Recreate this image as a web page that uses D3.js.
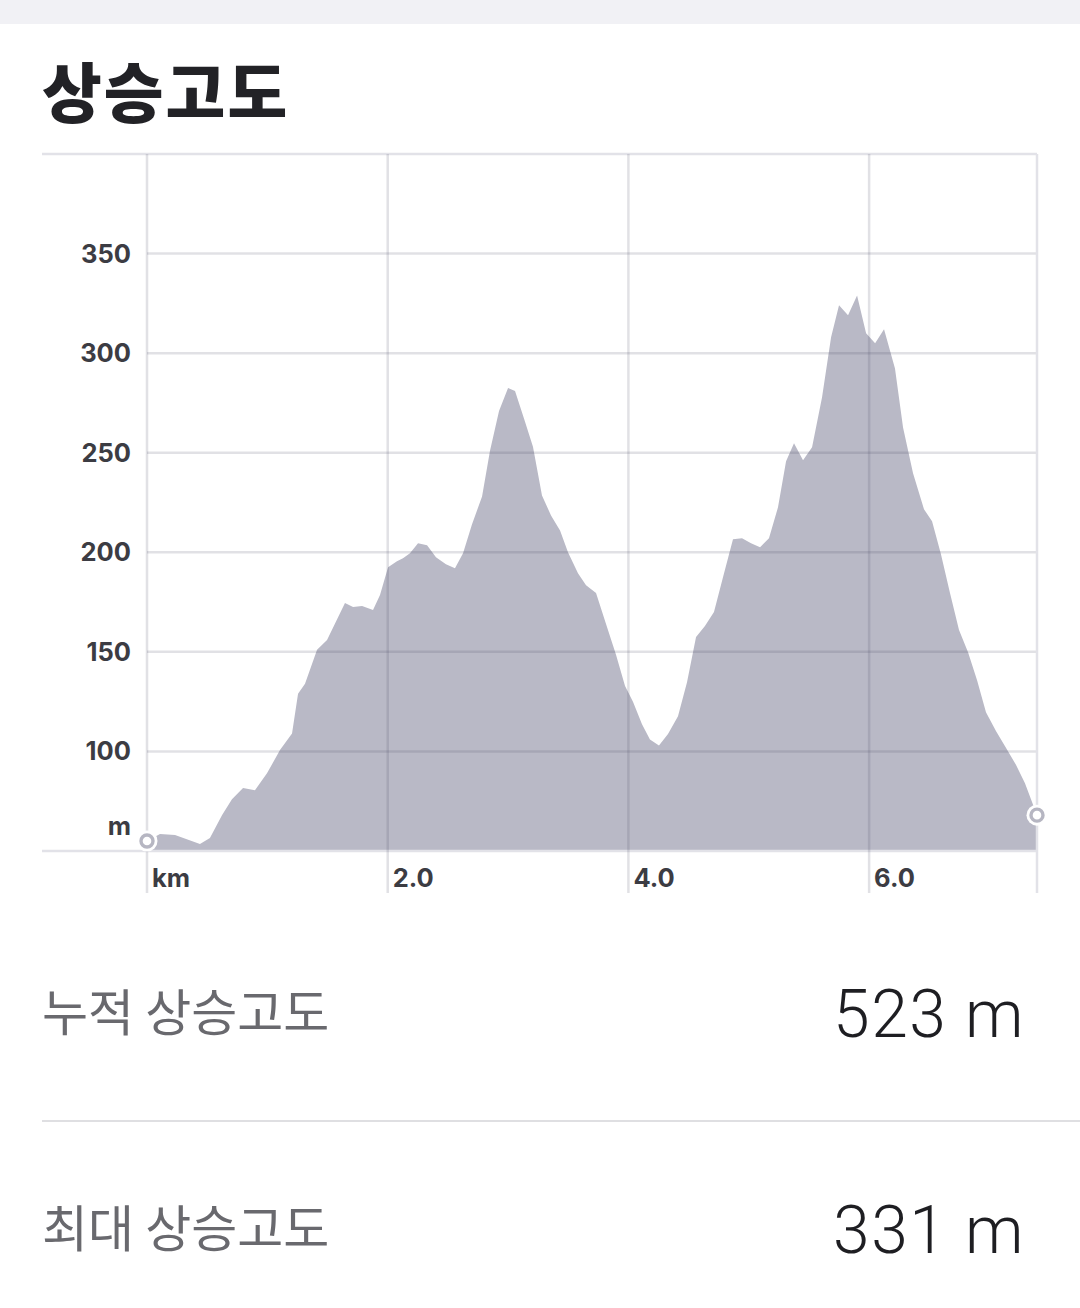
<!DOCTYPE html>
<html><head><meta charset="utf-8">
<script src="https://cdn.jsdelivr.net/npm/d3@7"></script>
<style>
html,body{margin:0;padding:0;background:#fff;}
svg{display:block;}
</style></head>
<body>
<svg id="c" width="1080" height="1308"></svg>
<script>
const distanceKm = [0,0.108,0.233,0.44,0.523,0.623,0.706,0.798,0.897,0.997,1.105,1.205,1.255,1.313,1.413,1.496,1.645,1.712,1.787,1.878,1.936,2.003,2.077,2.127,2.185,2.252,2.327,2.401,2.484,2.559,2.626,2.7,2.784,2.85,2.925,3.0,3.058,3.133,3.207,3.282,3.357,3.432,3.498,3.581,3.648,3.731,3.814,3.897,3.972,4.038,4.113,4.179,4.254,4.329,4.412,4.487,4.562,4.636,4.711,4.786,4.869,4.944,5.019,5.094,5.168,5.243,5.31,5.376,5.451,5.526,5.609,5.684,5.75,5.825,5.9,5.975,6.05,6.124,6.215,6.282,6.365,6.456,6.523,6.597,6.672,6.747,6.822,6.897,6.971,7.054,7.138,7.221,7.295,7.395];
const elevationM = [55,58.5,58,53.5,56.5,68,76,81.6,80.5,89,100.7,109,129,134,151,156,174.5,172.5,173,171,178.5,192.5,195.5,197,199.5,204.5,203.5,197.5,194,192,199.5,214,228,251,271,282.5,281,267,253,228.5,218.5,211,200,189.5,183.5,179.5,164,148.6,132.8,125,113.7,106,103,108.7,117.7,134.8,157.4,163,170,187.5,206.6,207.1,204.5,202.5,207,222.6,245.7,254.7,246.2,252.7,277.8,308,324,319,329,310,305,312,292.3,262.7,239.7,221.6,215.6,199,179.5,161,149.8,135.8,119.7,110.2,101.7,93.2,84,68];
const yTicks = [100,150,200,250,300,350];
const xTicks = [2,4,6];
const title = "상승고도";
const stats = [{label:"누적 상승고도", value:"523 m"},{label:"최대 상승고도", value:"331 m"}];

const svg = d3.select("#c");
const pL = 147, pR = 1037, pT = 154, pB = 851;
const x = d3.scaleLinear().domain([0, 7.395]).range([pL, pR]);
const y = d3.scaleLinear().domain([50, 400]).range([pB, pT]);

svg.append("rect").attr("x",0).attr("y",0).attr("width",1080).attr("height",24).attr("fill","#f1f1f5");

svg.append("text").attr("x",42).attr("y",117).attr("font-family","Noto Sans CJK KR").attr("font-weight",900)
  .attr("font-size",65).attr("letter-spacing",2).attr("fill","#222226").text(title);

const gridColor = "#e2e2e8";
const data = distanceKm.map((d,i)=>({d, e: elevationM[i]}));
svg.append("path").datum(data)
  .attr("d", d3.area().x(p=>x(p.d)).y0(y(50)).y1(p=>y(p.e)))
  .attr("fill","#b9b9c6");

const g = svg.append("g");
g.selectAll(".hg").data(yTicks).join("line")
  .attr("x1",pL).attr("x2",pR).attr("y1",d=>y(d)).attr("y2",d=>y(d))
  .attr("stroke","rgba(70,70,95,0.16)").attr("stroke-width",2.5);
g.append("line").attr("x1",42).attr("x2",pR).attr("y1",pT).attr("y2",pT).attr("stroke",gridColor).attr("stroke-width",2.5);
g.append("line").attr("x1",42).attr("x2",pR).attr("y1",pB).attr("y2",pB).attr("stroke",gridColor).attr("stroke-width",2.5);
g.selectAll(".vg").data([0].concat(xTicks)).join("line")
  .attr("x1",d=>x(d)).attr("x2",d=>x(d)).attr("y1",pT).attr("y2",893)
  .attr("stroke","rgba(70,70,95,0.16)").attr("stroke-width",2.5);
g.append("line").attr("x1",pR).attr("x2",pR).attr("y1",pT).attr("y2",893).attr("stroke",gridColor).attr("stroke-width",2.5);

const lab = svg.append("g").attr("font-family","Inter, Roboto, sans-serif").attr("font-weight",700).attr("font-size",25.5).attr("fill","#3c3c43");
lab.selectAll(".yl").data(yTicks).join("text").attr("x",131).attr("y",d=>y(d)+9).attr("text-anchor","end").text(d=>d);
lab.append("text").attr("x",131).attr("y",835).attr("text-anchor","end").text("m");
lab.append("text").attr("x",x(0)+5).attr("y",887).text("km");
lab.selectAll(".xl").data(xTicks).join("text").attr("x",d=>x(d)+5).attr("y",887).text(d=>d.toFixed(1));

[data[0], data[data.length-1]].forEach(p=>{
  svg.append("circle").attr("cx",x(p.d)).attr("cy",y(p.e)).attr("r",10.5).attr("fill","#fff");
  svg.append("circle").attr("cx",x(p.d)).attr("cy",y(p.e)).attr("r",6).attr("fill","#fff").attr("stroke","#b6b6c2").attr("stroke-width",3.4);
});

const sy = [1012, 1228];
stats.forEach((s,i)=>{
  svg.append("text").attr("x",42).attr("y",sy[i]+19).attr("font-family","Noto Sans CJK KR").attr("font-weight",400)
    .attr("font-size",50).attr("fill","#69696e").text(s.label);
  svg.append("text").attr("x",1025).attr("y",sy[i]+25).attr("text-anchor","end").attr("font-family","Roboto")
    .attr("font-weight",300).attr("font-size",66).attr("letter-spacing",1.5).attr("fill","#1e1e22").text(s.value);
});
svg.append("line").attr("x1",42).attr("x2",1080).attr("y1",1121).attr("y2",1121).attr("stroke","#d4d4d8").attr("stroke-width",1.5);
</script>
</body></html>
